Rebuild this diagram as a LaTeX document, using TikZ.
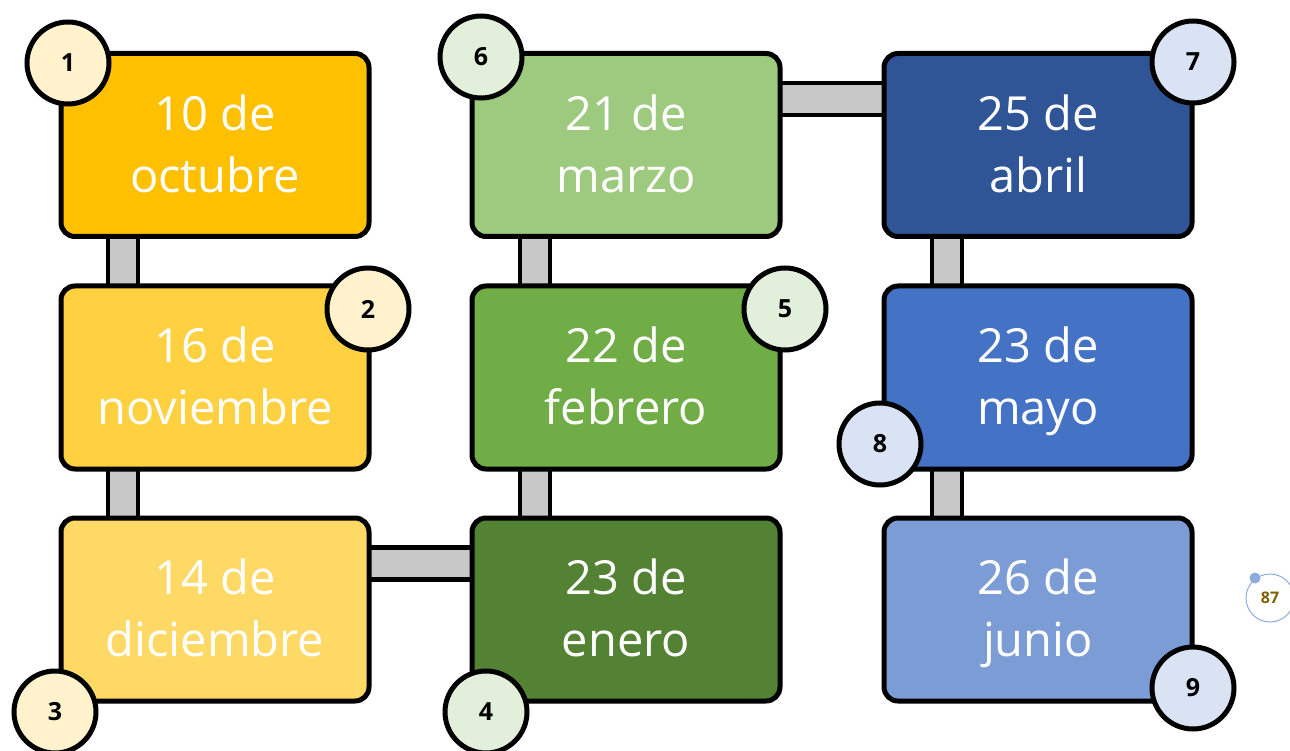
\documentclass[tikz,border=0pt]{standalone}
\usepackage{fontspec}
\setmainfont{Open Sans}
\usetikzlibrary{calc}
\definecolor{cA}{HTML}{FFC000}
\definecolor{cB}{HTML}{FFD03F}
\definecolor{cC}{HTML}{FFD966}
\definecolor{cD}{HTML}{9DCA7E}
\definecolor{cE}{HTML}{70AD47}
\definecolor{cF}{HTML}{548235}
\definecolor{cG}{HTML}{2F5597}
\definecolor{cH}{HTML}{4472C4}
\definecolor{cI}{HTML}{7C9CD6}
\definecolor{ly}{HTML}{FFF2CC}
\definecolor{lg}{HTML}{E2EFDA}
\definecolor{lb}{HTML}{DAE3F3}
\definecolor{barc}{HTML}{C8C8C8}
\definecolor{pgc}{HTML}{8FAADC}
\definecolor{pgt}{HTML}{7F6000}
\newcommand{\dd}[2]{\rule{0pt}{44pt}#1\vphantom{y}\\#2\vphantom{y}}
\tikzset{
  datebox/.style={draw=black, line width=5pt, rounded corners=14pt,
    minimum width=308pt, minimum height=183pt, text=white, align=center,
    font=\fontsize{47}{62}\selectfont, inner sep=0pt},
  numcirc/.style={circle, draw=black, line width=5pt, minimum size=82pt,
    inner sep=0pt, font=\fontsize{25}{27}\selectfont\bfseries},
  barbox/.style={draw=black, line width=4.5pt, fill=barc}
}
\begin{document}
\begin{tikzpicture}[x=1pt,y=-1pt]
\useasboundingbox (0,0) rectangle (1290,751);
% box positions
\path (215,145) coordinate (p1) (215,377.5) coordinate (p2) (215,609.5) coordinate (p3)
      (626,145) coordinate (p6) (626,377.5) coordinate (p5) (626,609.5) coordinate (p4)
      (1038,145) coordinate (p7) (1038,377.5) coordinate (p8) (1038,609.5) coordinate (p9);
% bars (under boxes)
\draw[barbox] ($(p1)+(-107,60)$) rectangle ($(p2)+(-77,-60)$);
\draw[barbox] ($(p2)+(-107,60)$) rectangle ($(p3)+(-77,-60)$);
\draw[barbox] ($(p6)+(-106,60)$) rectangle ($(p5)+(-76,-60)$);
\draw[barbox] ($(p5)+(-106,60)$) rectangle ($(p4)+(-76,-60)$);
\draw[barbox] ($(p7)+(-106,60)$) rectangle ($(p8)+(-76,-60)$);
\draw[barbox] ($(p8)+(-106,60)$) rectangle ($(p9)+(-76,-60)$);
\draw[barbox] ($(p3)+(140,-62)$) rectangle ($(p4)+(-140,-30)$);
\draw[barbox] ($(p6)+(140,-62)$) rectangle ($(p7)+(-140,-30)$);
% boxes
\node[datebox, fill=cA] (b1) at (p1) {\dd{10 de}{octubre}};
\node[datebox, fill=cB] (b2) at (p2) {\dd{16 de}{noviembre}};
\node[datebox, fill=cC] (b3) at (p3) {\dd{14 de}{diciembre}};
\node[datebox, fill=cF] (b4) at (p4) {\dd{23 de}{enero}};
\node[datebox, fill=cE] (b5) at (p5) {\dd{22 de}{febrero}};
\node[datebox, fill=cD] (b6) at (p6) {\dd{21 de}{marzo}};
\node[datebox, fill=cG] (b7) at (p7) {\dd{25 de}{abril}};
\node[datebox, fill=cH] (b8) at (p8) {\dd{23 de}{mayo}};
\node[datebox, fill=cI] (b9) at (p9) {\dd{26 de}{junio}};
% number circles
\node[numcirc, fill=ly] (n1) at (68,63) {1};
\node[numcirc, fill=ly] (n2) at (368,309) {2};
\node[numcirc, fill=ly] (n3) at (55,712) {3};
\node[numcirc, fill=lg] (n4) at (486,712) {4};
\node[numcirc, fill=lg] (n5) at (785,309) {5};
\node[numcirc, fill=lg] (n6) at (481,57) {6};
\node[numcirc, fill=lb] (n7) at (1193,62) {7};
\node[numcirc, fill=lb] (n8) at (880,444) {8};
\node[numcirc, fill=lb] (n9) at (1193,688) {9};
% page number
\node[circle, draw=pgc, line width=1pt, minimum size=48pt, inner sep=0pt,
  text=pgt, font=\fontsize{16}{18}\selectfont\bfseries] (pg) at (1270,598) {87};
\node[circle, fill=pgc, minimum size=11pt, inner sep=0pt] (pgd) at (1255,578) {};
\end{tikzpicture}
\end{document}
